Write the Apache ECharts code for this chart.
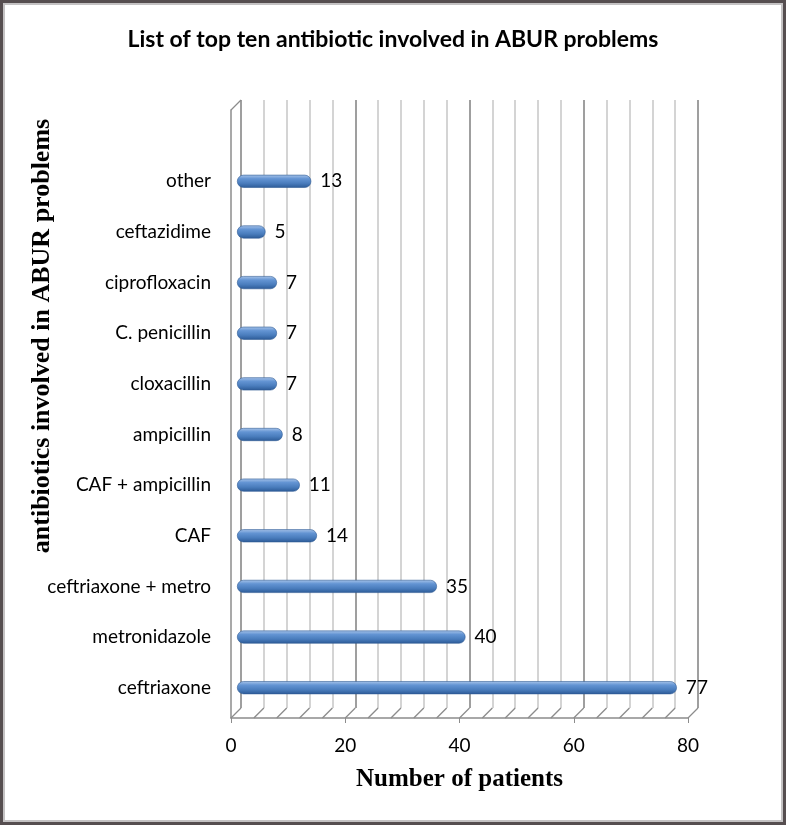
<!DOCTYPE html>
<html>
<head>
<meta charset="utf-8">
<script src="https://cdn.jsdelivr.net/npm/echarts@6/dist/echarts.min.js"></script>
<style>
html,body{margin:0;padding:0;background:#fff;}
#wrap{position:relative;width:786px;height:825px;}
#chart{position:absolute;left:0;top:0;width:786px;height:825px;}
#frame{position:absolute;left:0;top:0;width:786px;height:825px;box-sizing:border-box;border:3px solid #564e50;box-shadow:inset 0 0 0 2px #c4c2c3;pointer-events:none;}
</style>
</head>
<body>
<div id="wrap"><div id="chart"></div><div id="frame"></div></div>
<script>
// Data (bottom to top as in the reference)
const categories = ['ceftriaxone','metronidazole','ceftriaxone + metro','CAF','CAF + ampicillin','ampicillin','cloxacillin','C. penicillin','ciprofloxacin','ceftazidime','other'];
const patients = [77, 40, 35, 14, 11, 8, 7, 7, 7, 5, 13];
const xTicks = [0, 20, 40, 60, 80];
const gridStep = 4;
const titleText = 'List of top ten antibiotic involved in ABUR problems';
const xTitle = 'Number of patients';
const yTitle = 'antibiotics involved in ABUR problems';

const gridTicks = [];
for (let v = xTicks[0]; v <= xTicks[xTicks.length - 1]; v += gridStep) gridTicks.push(v);

const BACK = {left: 241, top: 100, width: 457, height: 608};
const FRONT = {left: 231, top: 110, width: 457, height: 608};
const DX = BACK.left - FRONT.left, DY = BACK.top - FRONT.top;

const chart = echarts.init(document.getElementById('chart'), null, {renderer: 'canvas'});
const wallColor = '#8c8c8c';

const option = {
  animation: false,
  backgroundColor: '#ffffff',
  title: {
    text: titleText, left: 'center', top: 23,
    textStyle: {fontFamily: 'Lato', fontWeight: 'bold', fontSize: 23, color: '#000'}
  },
  grid: [
    Object.assign({}, BACK),
    Object.assign({}, FRONT),
    {left: 237, top: 156, width: 457, height: 557}
  ],
  xAxis: [
    {gridIndex: 0, type: 'value', min: 0, max: 80, interval: gridStep,
     axisLine: {show: false}, axisTick: {show: false}, axisLabel: {show: false},
     splitLine: {show: true, lineStyle: {width: 1.5, color: ['#7f7f7f', '#c6c6c6', '#c6c6c6', '#c6c6c6', '#c6c6c6']}}},
    {gridIndex: 1, type: 'value', min: 0, max: 80, interval: 20,
     axisLine: {show: true, lineStyle: {color: wallColor, width: 1.5}},
     axisTick: {show: true, length: 5, lineStyle: {color: wallColor}},
     axisLabel: {fontFamily: 'Lato', fontSize: 19, color: '#000', margin: 18},
     splitLine: {show: false},
     name: xTitle, nameLocation: 'middle', nameGap: 49,
     nameTextStyle: {fontFamily: 'Liberation Serif', fontWeight: 'bold', fontSize: 25, color: '#000'}},
    {gridIndex: 2, type: 'value', min: 0, max: 80, show: false}
  ],
  yAxis: [
    {gridIndex: 0, type: 'value', min: 0, max: 1, show: false},
    {gridIndex: 1, type: 'value', min: 0, max: 1,
     axisLine: {show: true, lineStyle: {color: wallColor, width: 1.5}},
     axisTick: {show: false}, axisLabel: {show: false}, splitLine: {show: false}},
    {gridIndex: 2, type: 'category', data: categories,
     axisLine: {show: false}, axisTick: {show: false}, splitLine: {show: false},
     axisLabel: {fontFamily: 'Lato', fontSize: 19, color: '#000', margin: 26}}
  ],
  graphic: [{
    type: 'text',
    x: 42, y: 336, rotation: Math.PI / 2,
    style: {text: yTitle, fontFamily: 'Liberation Serif', fontWeight: 'bold', fontSize: 26, fill: '#000', align: 'center', verticalAlign: 'middle'}
  }],
  series: [
    {
      type: 'custom', xAxisIndex: 1, yAxisIndex: 1, silent: true, z: 1,
      data: gridTicks.map(v => [v, 0]),
      renderItem: function (params, api) {
        const p = api.coord([api.value(0), 0]);
        return {type: 'line', shape: {x1: p[0], y1: p[1], x2: p[0] + DX, y2: p[1] + DY},
                style: {stroke: wallColor, lineWidth: 1.3}};
      }
    },
    {
      type: 'custom', xAxisIndex: 1, yAxisIndex: 1, silent: true, z: 1,
      data: [[0, 1]],
      renderItem: function (params, api) {
        const p = api.coord([api.value(0), api.value(1)]);
        return {type: 'line', shape: {x1: p[0], y1: p[1], x2: p[0] + DX, y2: p[1] + DY},
                style: {stroke: wallColor, lineWidth: 1.3}};
      }
    },
    {
      type: 'bar', xAxisIndex: 2, yAxisIndex: 2, z: 5,
      data: patients, barWidth: 13,
      itemStyle: {
        borderRadius: 6.5,
        borderColor: '#2f5b93', borderWidth: 0.6,
        color: new echarts.graphic.LinearGradient(0, 0, 0, 1, [
          {offset: 0, color: '#a9c5ea'},
          {offset: 0.3, color: '#6394d3'},
          {offset: 0.65, color: '#4a7dbd'},
          {offset: 1, color: '#2c5a96'}
        ])
      },
      label: {show: true, position: 'right', distance: 9, fontFamily: 'Lato', fontSize: 19, color: '#000'}
    }
  ]
};
chart.setOption(option);
</script>
</body>
</html>
